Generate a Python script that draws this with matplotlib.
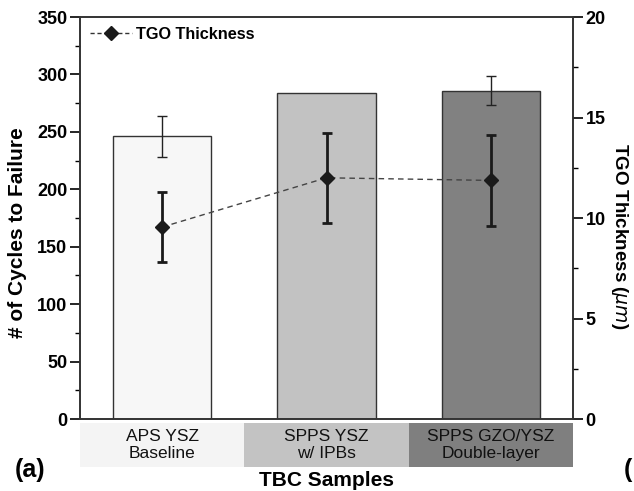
import matplotlib
matplotlib.use("Agg")
import matplotlib.pyplot as plt
from matplotlib.lines import Line2D
from matplotlib.ticker import MultipleLocator

plt.rcParams['font.family'] = ['Liberation Sans', 'DejaVu Sans']

categories = ["APS YSZ\nBaseline", "SPPS YSZ\nw/ IPBs", "SPPS GZO/YSZ\nDouble-layer"]
cycles = [246, 284, 286]
cycles_err = [18, 0, 13]
tgo = [9.55, 12.0, 11.87]
tgo_err = [1.75, 2.24, 2.28]
bar_colors = ["#f7f7f7", "#c2c2c2", "#818181"]
box_colors = ["#f4f4f4", "#c3c3c3", "#7f7f7f"]

W, H = 634, 491
fig = plt.figure(figsize=(W/100, H/100), dpi=100)

def rect(x0, y0, x1, y1):
    return [x0/W, 1 - y1/H, (x1-x0)/W, (y1-y0)/H]

ax = fig.add_axes(rect(80, 17, 573, 419))
x = list(range(len(categories)))
ax.bar(x, cycles, width=0.6, color=bar_colors, edgecolor="#333333", linewidth=1.0, zorder=2)
for xi, c, e in zip(x, cycles, cycles_err):
    if e > 0:
        ax.errorbar(xi, c, yerr=e, fmt='none', ecolor="#222222", elinewidth=1.0, capsize=3.3, capthick=1.0, zorder=3)
ax.set_xlim(-0.5, 2.5)
ax.set_ylim(0, 350)
ax.yaxis.set_major_locator(MultipleLocator(50))
ax.yaxis.set_minor_locator(MultipleLocator(25))
ax.set_xticks([])
ax.tick_params(axis='y', which='major', direction='out', length=7, width=1.2, labelsize=13, pad=2)
ax.tick_params(axis='y', which='minor', direction='out', length=3.5, width=1.0)
for lbl in ax.get_yticklabels():
    lbl.set_fontweight('bold')
for sp in ax.spines.values():
    sp.set_color("#333333")
    sp.set_linewidth(1.2)
ax.set_ylabel("# of Cycles to Failure", fontsize=15, fontweight='bold')
ax.yaxis.set_label_coords(-0.108, 0.463)

ax2 = ax.twinx()
ax2.set_ylim(0, 20)
ax2.yaxis.set_major_locator(MultipleLocator(5))
ax2.yaxis.set_minor_locator(MultipleLocator(2.5))
ax2.tick_params(axis='y', which='major', direction='out', length=7, width=1.2, labelsize=13, pad=2)
ax2.tick_params(axis='y', which='minor', direction='out', length=3.5, width=1.0)
for lbl in ax2.get_yticklabels():
    lbl.set_fontweight('bold')
for sp in ax2.spines.values():
    sp.set_color("#333333")
    sp.set_linewidth(1.2)
ax2.plot(x, tgo, linestyle=(0, (4, 3)), color="#444444", linewidth=1.0, zorder=3)
ax2.errorbar(x, tgo, yerr=tgo_err, fmt='D', color="#1a1a1a", markersize=7, ecolor="#1a1a1a",
             elinewidth=2.0, capsize=3.6, capthick=2.0, zorder=4)
ax2.set_ylabel("TGO Thickness ($\\mathit{\\mu m}$)", fontsize=13.5, fontweight='bold', rotation=-90)
ax2.yaxis.set_label_coords(1.116, 0.455)

handle = Line2D([], [], linestyle=(0, (3, 2)), color="#333333", linewidth=1.0, marker='D',
                markersize=7, markerfacecolor="#1a1a1a", markeredgecolor="#1a1a1a")
leg = ax2.legend([handle], ["TGO Thickness"], loc='upper left', frameon=False,
                 prop={'weight': 'bold', 'size': 11.7}, handlelength=2.6, handletextpad=0.25,
                 borderaxespad=0.2, bbox_to_anchor=(0.0, 1.0))

# category label boxes
axl = fig.add_axes(rect(80, 423, 573, 467))
axl.bar(x, [1]*len(x), width=1.0, color=box_colors, edgecolor='none')
for xi, cat in zip(x, categories):
    axl.text(xi, 0.5, cat, ha='center', va='center', fontsize=12.5, color="#111111", linespacing=1.2)
axl.set_xlim(-0.5, 2.5)
axl.set_ylim(0, 1)
axl.axis('off')

fig.text((80+573)/2/W, 1 - 481/H, "TBC Samples", ha='center', va='center', fontsize=15, fontweight='bold')
fig.text(15/W, 1 - 470/H, "(a)", ha='left', va='center', fontsize=18, fontweight='bold')
fig.text(624/W, 1 - 470/H, "(", ha='left', va='center', fontsize=18, fontweight='bold')

fig.savefig("out.png", dpi=100, facecolor='white')
